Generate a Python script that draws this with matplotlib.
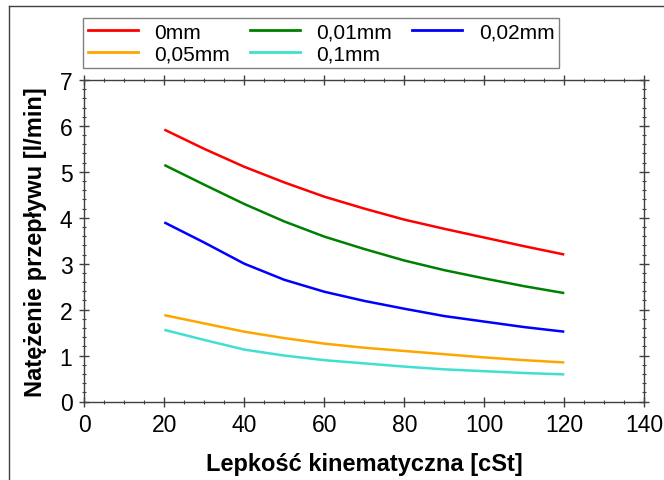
import matplotlib.pyplot as plt
from matplotlib.ticker import MultipleLocator
from matplotlib.lines import Line2D

plt.rcParams['font.family'] = ['Liberation Sans', 'DejaVu Sans']

# lepkosc kinematyczna [cSt]
viscosity = [20, 30, 40, 50, 60, 70, 80, 90, 100, 110, 120]

# natezenie przeplywu [l/min] for each gap
flow_0mm = [5.92, 5.50, 5.11, 4.77, 4.46, 4.20, 3.96, 3.76, 3.57, 3.38, 3.20]
flow_001mm = [5.15, 4.72, 4.30, 3.92, 3.59, 3.32, 3.07, 2.86, 2.68, 2.51, 2.36]
flow_002mm = [3.90, 3.46, 3.00, 2.65, 2.39, 2.19, 2.02, 1.86, 1.74, 1.62, 1.52]
flow_005mm = [1.88, 1.70, 1.52, 1.38, 1.26, 1.17, 1.10, 1.03, 0.96, 0.90, 0.85]
flow_01mm = [1.56, 1.34, 1.13, 1.00, 0.90, 0.83, 0.76, 0.70, 0.66, 0.62, 0.59]

labels = ['0mm', '0,01mm', '0,02mm', '0,05mm', '0,1mm']
colors = ['#ff0000', '#008000', '#0000ff', '#ffa500', '#40e0d0']
series = [flow_0mm, flow_001mm, flow_002mm, flow_005mm, flow_01mm]

fig = plt.figure(figsize=(6.64, 4.81), dpi=100)
ax = fig.add_axes([84.3 / 664, 1 - 402.5 / 481, (644.3 - 84.3) / 664, (402.5 - 81) / 481])

for vals, col, lab in zip(series, colors, labels):
    ax.plot(viscosity, vals, color=col, lw=1.8, label=lab, solid_capstyle='butt')

ax.set_xlim(0, 140)
ax.set_ylim(0, 7)
ax.xaxis.set_major_locator(MultipleLocator(20))
ax.xaxis.set_minor_locator(MultipleLocator(5))
ax.yaxis.set_major_locator(MultipleLocator(1))
ax.yaxis.set_minor_locator(MultipleLocator(0.2))

spine_col = '#404040'
for s in ax.spines.values():
    s.set_color(spine_col)
    s.set_linewidth(1.0)
ax.tick_params(which='both', direction='inout', top=True, right=True,
               colors=spine_col, labelcolor='black', labelsize=16.5)
ax.tick_params(which='major', length=7, width=1)
ax.tick_params(which='minor', length=3.5, width=0.8)
ax.tick_params(axis='x', pad=5)
ax.tick_params(axis='y', pad=5)
ax.tick_params(top=True, right=True, labeltop=False, labelright=False)

ax.set_xlabel('Lepkość kinematyczna [cSt]', fontsize=17, fontweight='bold', labelpad=11)
ax.set_ylabel('Natężenie przepływu [l/min]', fontsize=17, fontweight='bold', labelpad=9)

# legend in 3 columns, row order like the reference
handles = [Line2D([0], [0], color=c, lw=2) for c in colors]
order = [0, 3, 1, 4, 2]
leg = fig.legend([handles[i] for i in order], [labels[i] for i in order],
                 ncol=3, loc='upper left', bbox_to_anchor=(83 / 664, 1 - 19 / 481),
                 fontsize=15, frameon=True, fancybox=False, framealpha=1,
                 edgecolor='#808080', handlelength=2.4, handletextpad=0.8,
                 columnspacing=0.95, borderpad=0.22, labelspacing=0.15,
                 borderaxespad=0)
leg.get_frame().set_linewidth(1.0)

# outer frame of the picture
fig.add_artist(Line2D([9 / 664, 9 / 664], [0, 1 - 7 / 481], transform=fig.transFigure,
                      color='#404040', lw=1))
fig.add_artist(Line2D([9 / 664, 1], [1 - 7 / 481, 1 - 7 / 481], transform=fig.transFigure,
                      color='#404040', lw=1))

fig.savefig('out.png', dpi=100)
